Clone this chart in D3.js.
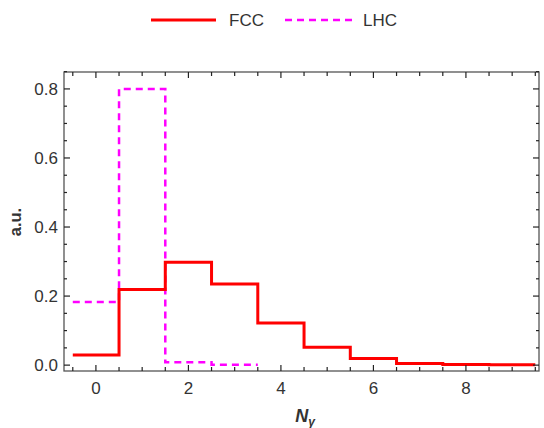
<!DOCTYPE html>
<html>
<head>
<meta charset="utf-8">
<script src="https://cdn.jsdelivr.net/npm/d3@7"></script>
<style>
  body { margin: 0; background: #fff; }
  text { font-family: "Liberation Sans", Arial, sans-serif; }
</style>
</head>
<body>
<div id="chart"></div>
<script>
// Data
var bins     = [0, 1, 2, 3, 4, 5, 6, 7, 8, 9];
var fcc      = [0.029, 0.219, 0.298, 0.235, 0.122, 0.052, 0.019, 0.005, 0.002, 0.001];
var lhcBins  = [0, 1, 2, 3];
var lhc      = [0.183, 0.800, 0.008, 0.001];
var xTicks   = [0, 2, 4, 6, 8];
var yTicks   = [0, 0.2, 0.4, 0.6, 0.8];

var width  = 544;
var height = 428;
var margin = { left: 64, right: 5, top: 72, bottom: 57 };

var svg = d3.select('#chart')
    .append('svg')
    .attr('width', width)
    .attr('height', height);

// scales
var x = d3.scaleLinear()
    .domain([-0.69, 9.58])
    .range([margin.left, width - margin.right]);

var y = d3.scaleLinear()
    .domain([-0.017, 0.849])
    .range([height - margin.bottom, margin.top]);

var frameColor = '#555';
var textColor = '#333';

// step line points from bin centres
function steps(b, v) {
    var pts = [];
    b.forEach(function(c, i) {
        pts.push([c - 0.5, v[i]]);
        pts.push([c + 0.5, v[i]]);
    });
    return pts;
}

var line = d3.line()
    .x(function(d){ return x(d[0]); })
    .y(function(d){ return y(d[1]); });

svg.append('path')
    .attr('d', line(steps(lhcBins, lhc)))
    .attr('fill', 'none')
    .attr('stroke', '#ff00ff')
    .attr('stroke-width', 2.5)
    .attr('stroke-dasharray', '7,5');

svg.append('path')
    .attr('d', line(steps(bins, fcc)))
    .attr('fill', 'none')
    .attr('stroke', '#ff0000')
    .attr('stroke-width', 3);

// frame
var x0 = x.range()[0], x1 = x.range()[1];
var y0 = y.range()[0], y1 = y.range()[1];
svg.append('rect')
    .attr('x', x0).attr('y', y1)
    .attr('width', x1 - x0).attr('height', y0 - y1)
    .attr('fill', 'none')
    .attr('stroke', frameColor)
    .attr('stroke-width', 1.3);

// ticks (inward, all four sides)
var xMinor = d3.range(-0.5, 9.6, 0.5);
var yMinor = d3.range(0, 0.86, 0.05);

function isMajor(v, arr) {
    return arr.some(function(t){ return Math.abs(t - v) < 1e-6; });
}

var ticks = svg.append('g').attr('stroke', '#222').attr('stroke-width', 1.2);
xMinor.forEach(function(v) {
    var len = isMajor(v, xTicks) ? 6 : 4;
    ticks.append('line').attr('x1', x(v)).attr('x2', x(v)).attr('y1', y0).attr('y2', y0 - len);
    ticks.append('line').attr('x1', x(v)).attr('x2', x(v)).attr('y1', y1).attr('y2', y1 + len);
});
yMinor.forEach(function(v) {
    var len = isMajor(v, yTicks) ? 6 : 3;
    ticks.append('line').attr('x1', x0).attr('x2', x0 + len).attr('y1', y(v)).attr('y2', y(v));
    ticks.append('line').attr('x1', x1).attr('x2', x1 - len).attr('y1', y(v)).attr('y2', y(v));
});

// tick labels
svg.selectAll('text.xt')
    .data(xTicks)
    .enter()
    .append('text')
    .attr('class', 'xt')
    .attr('x', function(d){ return x(d); })
    .attr('y', y0 + 23)
    .attr('text-anchor', 'middle')
    .attr('font-size', 17)
    .attr('fill', textColor)
    .text(function(d){ return d; });

svg.selectAll('text.yt')
    .data(yTicks)
    .enter()
    .append('text')
    .attr('class', 'yt')
    .attr('x', x0 - 6)
    .attr('y', function(d){ return y(d); })
    .attr('dy', '0.35em')
    .attr('text-anchor', 'end')
    .attr('font-size', 17)
    .attr('fill', textColor)
    .text(function(d){ return d3.format('.1f')(d); });

// axis labels
svg.append('text')
    .attr('transform', 'translate(21,' + 222 + ') rotate(-90)')
    .attr('text-anchor', 'middle')
    .attr('font-size', 16.5)
    .attr('font-weight', 'bold')
    .attr('fill', textColor)
    .text('a.u.');

var xl = svg.append('text')
    .attr('x', 305)
    .attr('y', 422)
    .attr('text-anchor', 'middle')
    .attr('font-size', 18)
    .attr('font-weight', 'bold')
    .attr('font-style', 'italic')
    .attr('fill', textColor);
xl.append('tspan').text('N');
xl.append('tspan').attr('font-size', 12).attr('dy', 4).text('γ');

// legend
var legend = svg.append('g');
legend.append('line')
    .attr('x1', 151).attr('x2', 216).attr('y1', 20).attr('y2', 20)
    .attr('stroke', '#ff0000').attr('stroke-width', 3);
legend.append('text')
    .attr('x', 229).attr('y', 20).attr('dy', '0.35em')
    .attr('font-size', 17).attr('fill', textColor)
    .text('FCC');
legend.append('line')
    .attr('x1', 285).attr('x2', 352).attr('y1', 20).attr('y2', 20)
    .attr('stroke', '#ff00ff').attr('stroke-width', 2.5)
    .attr('stroke-dasharray', '7,5');
legend.append('text')
    .attr('x', 363).attr('y', 20).attr('dy', '0.35em')
    .attr('font-size', 17).attr('fill', textColor)
    .text('LHC');
</script>
</body>
</html>
